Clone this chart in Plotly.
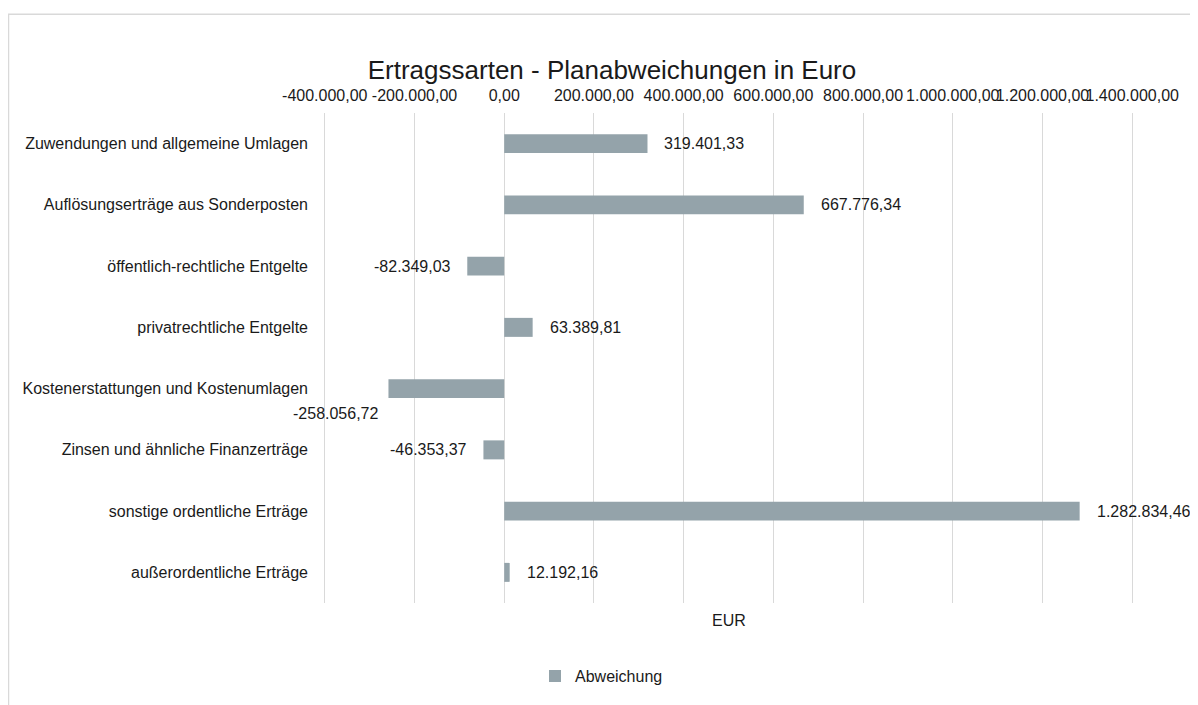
import plotly.graph_objects as go

categories = [
    "Zuwendungen und allgemeine Umlagen",
    "Auflösungserträge aus Sonderposten",
    "öffentlich-rechtliche Entgelte",
    "privatrechtliche Entgelte",
    "Kostenerstattungen und Kostenumlagen",
    "Zinsen und ähnliche Finanzerträge",
    "sonstige ordentliche Erträge",
    "außerordentliche Erträge",
]
values = [319401.33, 667776.34, -82349.03, 63389.81, -258056.72, -46353.37, 1282834.46, 12192.16]
tick_values = [-400000, -200000, 0, 200000, 400000, 600000, 800000, 1000000, 1200000, 1400000]


def de_fmt(v):
    s = f"{v:,.2f}"
    return s.replace(",", "X").replace(".", ",").replace("X", ".")


tick_text = [de_fmt(v) for v in tick_values]
label_text = [de_fmt(v) for v in values]

FONT = "Liberation Sans, Arial, sans-serif"
BAR = "#94A3AA"
TXT = "#1a1a1a"
W, H = 1190, 697
ML, MR, MT, MB = 315, 64, 105, 96
PW, PH = W - ML - MR, H - MT - MB

fig = go.Figure()
fig.add_trace(go.Bar(
    x=values, y=categories, orientation="h",
    marker=dict(color=BAR, line=dict(width=0)),
    name="Abweichung", showlegend=True,
))

annotations = []
for c, v, t in zip(categories, values, label_text):
    a = dict(x=v, y=c, xref="x", yref="y", text=t, showarrow=False,
             font=dict(family=FONT, size=16, color=TXT))
    if v >= 0:
        a.update(xanchor="left", xshift=15)
    else:
        a.update(xanchor="right", xshift=-14)
    if c == "Kostenerstattungen und Kostenumlagen":
        a.update(yshift=-25, xshift=-7)
    annotations.append(a)

annotations.append(dict(
    x=0.5, y=(H - 619 - MB) / PH, xref="paper", yref="paper", text="EUR",
    showarrow=False, font=dict(family=FONT, size=16, color=TXT),
    xanchor="center", yanchor="middle"))

fig.update_layout(
    width=W, height=H,
    margin=dict(l=ML, r=MR, t=MT, b=MB),
    paper_bgcolor="white", plot_bgcolor="white",
    font=dict(family=FONT, color=TXT),
    title=dict(text="Ertragssarten - Planabweichungen in Euro",
               x=(604 - ML) / PW, xref="paper", xanchor="center",
               y=1 - 62 / H, yref="container", yanchor="middle",
               font=dict(family=FONT, size=26, color=TXT)),
    bargap=0.69,
    xaxis=dict(range=[-404000, 1404000], side="top", tickvals=tick_values,
               ticktext=tick_text, tickangle=0, showgrid=True,
               gridcolor="#d9d9d9", gridwidth=1, zeroline=False,
               showline=False, ticks="", ticklabelstandoff=8,
               tickfont=dict(family=FONT, size=16, color=TXT)),
    yaxis=dict(autorange="reversed", showgrid=False, zeroline=False,
               showline=False, ticks="", ticklabelstandoff=14,
               tickfont=dict(family=FONT, size=16, color=TXT)),
    legend=dict(orientation="h", x=(527 - ML) / PW, xanchor="left",
                y=(H - 675 - MB) / PH, yanchor="middle",
                font=dict(family=FONT, size=16, color=TXT),
                itemwidth=30),
    annotations=annotations,
    shapes=[dict(type="rect", xref="paper", yref="paper",
                 x0=(0.5 - ML) / PW, x1=1.3, y0=-0.5, y1=(H - 5 - MB) / PH,
                 line=dict(color="#d9d9d9", width=1.5), layer="below")],
)

fig.write_html("out.html")
